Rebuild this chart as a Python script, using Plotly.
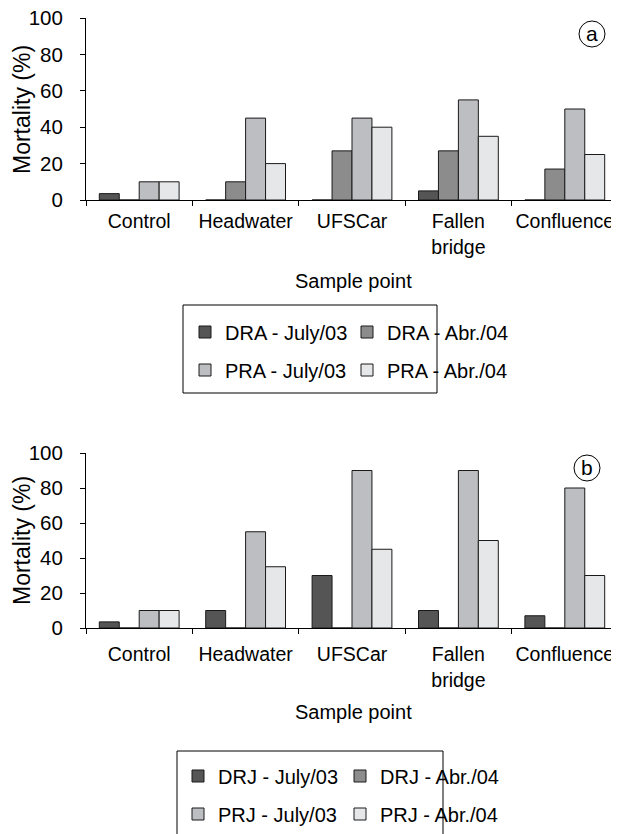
import plotly.graph_objects as go

categories = ["Control", "Headwater", "UFSCar", "Fallen<br>bridge", "Confluence"]

# Panel (a)
dra_july03 = [3.5, 0, 0, 5, 0]
dra_abr04 = [0, 10, 27, 27, 17]
pra_july03 = [10, 45, 45, 55, 50]
pra_abr04 = [10, 20, 40, 35, 25]

# Panel (b)
drj_july03 = [3.5, 10, 30, 10, 7]
drj_abr04 = [0, 0, 0, 0, 0]
prj_july03 = [10, 55, 90, 90, 80]
prj_abr04 = [10, 35, 45, 50, 30]

series_a = [("DRA - July/03", dra_july03), ("DRA - Abr./04", dra_abr04),
            ("PRA - July/03", pra_july03), ("PRA - Abr./04", pra_abr04)]
series_b = [("DRJ - July/03", drj_july03), ("DRJ - Abr./04", drj_abr04),
            ("PRJ - July/03", prj_july03), ("PRJ - Abr./04", prj_abr04)]
colors = ["#555555", "#8c8c8c", "#bdbec1", "#e6e7e9"]

W, H = 619, 834
OFF = 8  # page body margin of the html page
FONT = "Liberation Sans, Arial, sans-serif"

def px_y(p):
    return 1 - (p - OFF) / H

def px_x(p):
    return (p - OFF) / W

# legend rows: top panel rows -> legend, legend2 ; bottom -> legend3, legend4
legend_rows_a = ["legend", "legend", "legend2", "legend2"]
legend_rows_b = ["legend3", "legend3", "legend4", "legend4"]

fig = go.Figure()
for series, axes, rows in [(series_a, ("x", "y"), legend_rows_a),
                           (series_b, ("x2", "y2"), legend_rows_b)]:
    for (name, vals), c, lg in zip(series, colors, rows):
        fig.add_trace(go.Bar(
            x=categories, y=vals, name=name, marker_color=c,
            marker_line=dict(color="#1a1a1a", width=1),
            xaxis=axes[0], yaxis=axes[1], legend=lg))

xdom = [px_x(86), px_x(618)]

def xaxis_style(standoff):
    return dict(showline=True, linecolor="black", linewidth=1, ticks="outside",
                tickson="boundaries", ticklen=5, tickcolor="black", showgrid=False,
                tickangle=0, ticklabeloverflow="allow",
                tickfont=dict(family=FONT, size=19.5, color="black"),
                ticklabelstandoff=standoff)

yax = dict(range=[0, 100], dtick=20, showline=True, linecolor="black", linewidth=1,
           ticks="outside", ticklen=5, tickcolor="black", showgrid=False, zeroline=False,
           ticklabeloverflow="allow",
           tickfont=dict(family=FONT, size=20.5, color="black"), ticklabelstandoff=13)

legend_common = dict(orientation="h", xanchor="left", yanchor="middle",
                     bgcolor="rgba(0,0,0,0)", borderwidth=0,
                     font=dict(family=FONT, size=20, color="black"),
                     entrywidth=117, entrywidthmode="pixels", traceorder="normal")

fig.update_layout(
    width=W, height=H,
    margin=dict(l=0, r=0, t=0, b=0, autoexpand=False),
    paper_bgcolor="white", plot_bgcolor="white",
    barmode="group", bargap=0.25, bargroupgap=0,
    xaxis=dict(domain=xdom, anchor="y", **xaxis_style(4)),
    yaxis=dict(domain=[px_y(200), px_y(18)], anchor="x", **yax),
    xaxis2=dict(domain=xdom, anchor="y2", **xaxis_style(9)),
    yaxis2=dict(domain=[px_y(628), px_y(453)], anchor="x2", **yax),
    legend=dict(x=px_x(185), y=px_y(332), **legend_common),
    legend2=dict(x=px_x(185), y=px_y(370), **legend_common),
    legend3=dict(x=px_x(178), y=px_y(776), **legend_common),
    legend4=dict(x=px_x(178), y=px_y(814), **legend_common),
    showlegend=True,
)

# legend frames
for x0, y0, x1, y1 in [(183, 305, 437, 393), (177, 751, 443, 842)]:
    fig.add_shape(type="rect", xref="paper", yref="paper",
                  x0=px_x(x0), x1=px_x(x1), y0=px_y(y1), y1=px_y(y0),
                  line=dict(color="black", width=1), layer="below")

annos = [
    dict(text="Mortality (%)", x=px_x(22), y=px_y(110), textangle=-90, size=23),
    dict(text="Mortality (%)", x=px_x(22), y=px_y(541), textangle=-90, size=23),
    dict(text="Sample point", x=px_x(353), y=px_y(281), textangle=0, size=20),
    dict(text="Sample point", x=px_x(353), y=px_y(712), textangle=0, size=20),
]
for a in annos:
    size = a.pop("size")
    fig.add_annotation(xref="paper", yref="paper", showarrow=False,
                       xanchor="center", yanchor="middle",
                       font=dict(family=FONT, size=size, color="black"), **a)

for letter, cx, cy in [("a", 592, 34), ("b", 587, 468)]:
    r = 13
    fig.add_shape(type="circle", xref="paper", yref="paper",
                  x0=px_x(cx - r), x1=px_x(cx + r), y0=px_y(cy + r), y1=px_y(cy - r),
                  line=dict(color="black", width=1))
    fig.add_annotation(text=letter, xref="paper", yref="paper", x=px_x(cx), y=px_y(cy - 1),
                       showarrow=False, xanchor="center", yanchor="middle",
                       font=dict(family=FONT, size=21, color="black"))

fig.write_html("out.html")
